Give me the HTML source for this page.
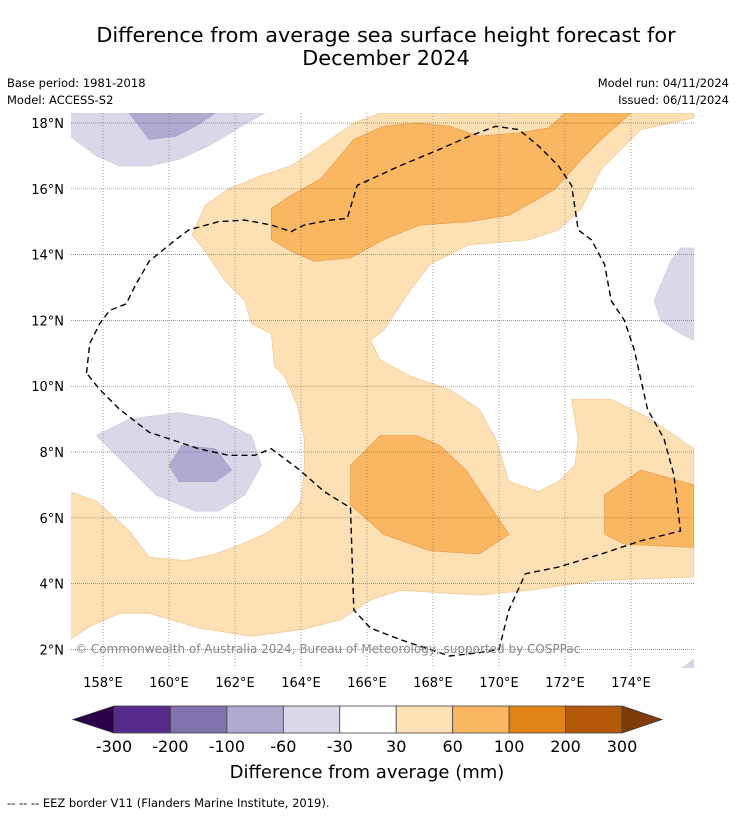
<!DOCTYPE html>
<html><head><meta charset="utf-8">
<style>
body{margin:0;background:#fff;}
svg text{font-family:"DejaVu Sans","Liberation Sans",sans-serif;}
</style></head>
<body>
<svg id="chart" width="736" height="816" viewBox="0 0 736 816" xmlns="http://www.w3.org/2000/svg">
<rect width="736" height="816" fill="#fff"/>
<text x="386" y="42" font-size="20.8" text-anchor="middle">Difference from average sea surface height forecast for</text>
<text x="386" y="65" font-size="20.8" text-anchor="middle">December 2024</text>
<text x="7" y="87" font-size="11.5">Base period: 1981-2018</text>
<text x="7" y="104" font-size="11.5">Model: ACCESS-S2</text>
<text x="729" y="87" font-size="11.5" text-anchor="end">Model run: 04/11/2024</text>
<text x="729" y="104" font-size="11.5" text-anchor="end">Issued: 06/11/2024</text>
<defs><clipPath id="mapclip"><rect x="71" y="113" width="624" height="555"/></clipPath></defs>
<g id="map" clip-path="url(#mapclip)"></g>
<g id="axes"></g>
<g id="cbar"></g>
<text x="367" y="778" font-size="18" text-anchor="middle">Difference from average (mm)</text>
<text x="7" y="807" font-size="11.5">--  --  -- EEZ border V11 (Flanders Marine Institute, 2019).</text>
</svg>
<script>
const lonTicks=[158,160,162,164,166,168,170,172,174];
const latTicks=[2,4,6,8,10,12,14,16,18];
const cbarLevels=["-300","-200","-100","-60","-30","30","60","100","200","300"];
const cbarColors=["#562a8a","#8073ad","#b0a9d0","#d8d8e9","#ffffff","#fee0b5","#fbb661","#e08214","#b35806"];
const lightOrange=[161.1,15.5,161.8,16.0,162.8,16.4,163.7,16.7,164.6,17.3,165.6,18.0,166.4,18.3,175.9,18.3,175.9,18.15,174.3,17.8,173.1,16.6,172.5,15.4,171.8,14.75,170.9,14.45,169.1,14.3,167.9,13.7,167.3,12.9,166.5,11.7,166.1,11.4,166.4,10.8,167.3,10.3,168.5,9.9,169.4,9.3,169.9,8.4,170.3,7.1,171.2,6.8,171.8,7.1,172.3,7.6,172.4,8.4,172.2,9.6,173.4,9.6,174.6,9.0,175.9,8.1,175.9,4.2,173.1,4.1,170.9,3.8,169.4,3.65,167.0,3.8,166.1,3.5,165.2,2.9,164.0,2.6,162.5,2.4,160.9,2.65,159.4,3.1,158.5,3.1,157.6,2.7,157.0,2.3,157.0,6.8,157.8,6.5,158.8,5.6,159.4,4.8,160.5,4.7,161.4,4.9,162.2,5.2,162.9,5.5,163.5,5.9,164.0,6.5,164.1,7.45,164.1,8.4,163.9,9.4,163.5,10.3,163.2,10.6,163.1,11.6,162.5,11.9,162.3,12.6,161.7,13.2,161.1,14.1,160.7,14.6];
const darkOrangeNorth=[163.1,15.4,163.7,15.8,164.6,16.3,165.6,17.5,166.5,17.9,167.5,18.0,168.5,17.9,169.4,17.6,170.6,17.7,171.5,17.85,172.0,18.3,174.0,18.3,173.1,17.5,172.5,16.9,171.7,16.0,171.2,15.7,170.3,15.2,169.1,15.0,167.6,14.9,166.5,14.45,165.5,13.9,164.4,13.8,163.7,14.1,163.1,14.45];
const darkOrangeCentral=[165.5,7.6,166.4,8.5,167.5,8.5,168.2,8.2,169.0,7.45,169.7,6.4,170.3,5.5,169.4,4.9,167.9,5.0,166.5,5.5,165.5,6.4];
const darkOrangeEast=[173.2,6.7,174.3,7.45,175.9,7.0,175.9,5.1,173.8,5.2,173.2,5.5];
const lavenderNW=[157.0,18.3,162.9,18.3,162.2,17.9,161.2,17.3,160.3,16.9,159.4,16.7,158.5,16.7,157.8,17.0,157.0,17.6];
const lavenderW=[157.8,8.5,158.8,9.0,160.3,9.2,161.5,9.0,162.5,8.5,162.8,7.6,162.3,6.7,161.5,6.2,160.8,6.2,159.6,6.7,158.7,7.6];
const lavenderE=[175.5,14.2,175.9,14.2,175.9,11.4,175.5,11.6,174.9,12.0,174.7,12.6,175.2,13.8];
const lavenderSE=[175.5,1.4,175.9,1.7,175.9,1.4];
const purpleNW=[158.8,18.3,161.4,18.3,160.8,17.9,160.2,17.6,159.4,17.5];
const purpleW=[160.4,8.2,161.4,8.1,161.9,7.45,161.4,7.1,160.3,7.1,160.0,7.6];
const eezBorder=[157.5,10.4,157.6,11.3,157.9,11.9,158.2,12.3,158.7,12.5,159.0,13.1,159.4,13.8,160.2,14.45,160.6,14.75,161.5,15.0,162.3,15.05,163.1,14.9,163.7,14.7,164.1,14.9,164.9,15.05,165.4,15.1,165.7,16.1,167.0,16.7,168.2,17.2,169.1,17.6,169.9,17.9,170.6,17.8,171.2,17.3,171.8,16.7,172.2,16.1,172.4,14.75,172.8,14.45,173.2,13.7,173.4,12.6,173.8,12.0,174.1,11.1,174.3,10.2,174.5,9.3,175.0,8.4,175.3,7.3,175.5,5.6,174.3,5.3,173.1,4.9,171.8,4.5,170.8,4.3,170.3,3.2,170.0,2.0,169.4,1.9,168.5,1.8,167.9,2.0,167.0,2.3,166.1,2.65,165.6,3.2,165.5,6.3,164.7,6.8,163.9,7.5,163.1,8.1,162.6,7.9,161.8,7.9,160.9,8.1,160.0,8.4,159.4,8.6,158.5,9.3,157.9,9.9,157.5,10.4];

const NS='http://www.w3.org/2000/svg';
function xs(lon){return 70+(lon-157)*33;}
function ys(lat){return 123+(18-lat)*32.9;}
function mk(tag,attrs,parent){const e=document.createElementNS(NS,tag);for(const k in attrs)e.setAttribute(k,attrs[k]);parent.appendChild(e);return e;}
function pts(arr){let s=[];for(let i=0;i<arr.length;i+=2)s.push(xs(arr[i]).toFixed(1)+','+ys(arr[i+1]).toFixed(1));return s.join(' ');}
const map=document.getElementById('map');
function poly(arr,fill,stroke,name){
  const p=mk('polygon',{points:pts(arr),fill:fill,stroke:stroke,'stroke-width':0.8},map);
  
  
}
poly(lightOrange,'#fee0b5','#f3c995','contour-30-60');
poly(darkOrangeNorth,'#fbb661','#e8a050','contour-60-100-north');
poly(darkOrangeCentral,'#fbb661','#e8a050','contour-60-100-central');
poly(darkOrangeEast,'#fbb661','#e8a050','contour-60-100-east');
poly(lavenderNW,'#d8d8e9','#d0d0e4','contour-minus30-minus60-nw');
poly(lavenderW,'#d8d8e9','#d0d0e4','contour-minus30-minus60-w');
poly(lavenderE,'#d8d8e9','#d0d0e4','contour-minus30-minus60-e');
poly(lavenderSE,'#d8d8e9','#d0d0e4','contour-minus30-minus60-se');
poly(purpleNW,'#b0a9d0','#a8a0ca','contour-minus60-minus100-nw');
poly(purpleW,'#b0a9d0','#a8a0ca','contour-minus60-minus100-w');
lonTicks.forEach(l=>{const g=mk('line',{x1:xs(l),x2:xs(l),y1:113,y2:668,stroke:'#777','stroke-width':0.7,'stroke-dasharray':'1,2'},map);

});
latTicks.forEach(l=>{const g=mk('line',{x1:71,x2:695,y1:ys(l),y2:ys(l),stroke:'#777','stroke-width':0.7,'stroke-dasharray':'1,1'},map);

});
const ez=mk('polyline',{points:pts(eezBorder),fill:'none',stroke:'#000','stroke-width':1.4,'stroke-dasharray':'6,4'},map);


const cp=mk('text',{x:75,y:653,'font-size':12,fill:'#888'},map);
cp.textContent='© Commonwealth of Australia 2024, Bureau of Meteorology, supported by COSPPac';


const axes=document.getElementById('axes');
lonTicks.forEach(l=>{const t=mk('text',{x:xs(l),y:687,'font-size':13,'text-anchor':'middle'},axes);t.textContent=l+'°E';

});
latTicks.forEach(l=>{const t=mk('text',{x:64,y:ys(l)+5,'font-size':13,'text-anchor':'end'},axes);t.textContent=l+'°N';

});
const cb=document.getElementById('cbar');
const cx0=114,cx1=622,cy0=706,cy1=733,w=(cx1-cx0)/cbarColors.length;
const lt=mk('polygon',{points:`${cx0},${cy0} ${cx0},${cy1} 73,719.5`,fill:'#2d004b',stroke:'#333','stroke-width':0.8},cb);


const rt=mk('polygon',{points:`${cx1},${cy0} ${cx1},${cy1} 662,719.5`,fill:'#7f3b08',stroke:'#333','stroke-width':0.8},cb);


cbarColors.forEach((c,i)=>{const r=mk('rect',{x:cx0+i*w,y:cy0,width:w,height:cy1-cy0,fill:c,stroke:'#444','stroke-width':0.8},cb);

});
cbarLevels.forEach((s,i)=>{const t=mk('text',{x:cx0+i*w,y:752,'font-size':16,'text-anchor':'middle'},cb);t.textContent=s;

});
</script>
</body></html>
